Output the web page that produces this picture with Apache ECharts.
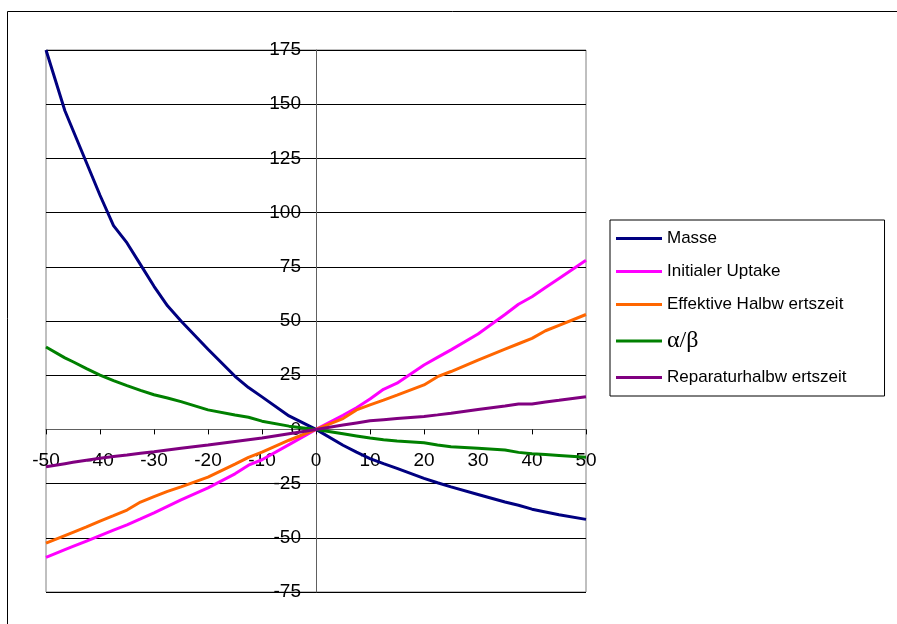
<!DOCTYPE html>
<html>
<head>
<meta charset="utf-8">
<script src="https://cdn.jsdelivr.net/npm/echarts@6/dist/echarts.min.js"></script>
<style>
html,body{margin:0;padding:0;background:#fff;}
#chart{width:897px;height:624px;}
</style>
</head>
<body>
<div id="chart"></div>
<script>
// x values (shared by all series)
var xValues = [-50,-46.5,-45,-42.5,-40,-37.5,-35,-32.5,-30,-27.5,-25,-20,-15,-12.5,-10,-5,0,5,7.5,10,12.5,15,20,22.5,25,30,35,37.5,40,42.5,45,50];

var seriesNames = ['Masse','Initialer Uptake','Effektive Halbw ertszeit','α/β','Reparaturhalbw ertszeit'];

var masse = [175,147,138,123,108,94,86,76,66,57,50,37,24.5,19.3,15,6.2,0,-7.3,-10.5,-13.5,-15.8,-18,-22.6,-24.6,-26.5,-30,-33.5,-35,-36.8,-38.1,-39.4,-41.5];
var initialerUptake = [-59,-55.5,-54,-51.5,-49,-46.5,-44,-41.3,-38.5,-35.5,-32.5,-27,-20.5,-16.5,-14,-7,0,6.5,10,14,18.5,21.3,29.7,33.2,36.7,44,53,57.7,61.2,65.4,69.6,78];
var effektiveHWZ = [-52.5,-49,-47.5,-45,-42.3,-39.8,-37.2,-33.5,-31,-28.6,-26.5,-22,-16,-12.9,-10.5,-5,0,5,9,11.3,13.5,15.8,20.5,24.3,26.7,32,37,39.5,42,45.5,48,53];
var alphaBeta = [38,33,31.2,28,25,22.5,20.2,18,16,14.5,12.8,9,6.6,5.6,3.8,1.5,0,-2,-3,-4,-4.8,-5.4,-6.2,-7.2,-8,-8.7,-9.5,-10.6,-11.2,-11.6,-12,-12.9];
var reparaturHWZ = [-17.2,-15.8,-15.2,-14.2,-13.3,-12.5,-11.8,-11,-10.3,-9.5,-8.7,-7.2,-5.6,-4.8,-4,-2,0,2,3,4,4.5,5,6,6.7,7.5,9.2,10.8,11.7,11.7,12.6,13.4,15.1];

var seriesValues = [masse, initialerUptake, effektiveHWZ, alphaBeta, reparaturHWZ];
var seriesColors = ['#000080','#FF00FF','#FF6600','#008000','#800080'];

var X_MIN = -50, X_MAX = 50, Y_MIN = -75, Y_MAX = 175;
var GRID = {left: 46, top: 50, right: 311, bottom: 32};
var W = 897, H = 624;
var gw = W - GRID.left - GRID.right, gh = H - GRID.top - GRID.bottom;
// offsets to place axes where the other axis is zero
var xAxisOffset = -(gh * (0 - Y_MIN) / (Y_MAX - Y_MIN));
var yAxisOffset = -(gw * (0 - X_MIN) / (X_MAX - X_MIN));

function pairs(vals){
  return xValues.map(function(x,i){ return [x, vals[i]]; });
}

var chart = echarts.init(document.getElementById('chart'), null, {renderer:'canvas'});

var series = seriesNames.map(function(n,i){
  return {
    name: n,
    type: 'line',
    data: pairs(seriesValues[i]),
    showSymbol: false,
    symbol: 'none',
    smooth: false,
    lineStyle: {width: 3, color: seriesColors[i]},
    itemStyle: {color: seriesColors[i]},
    animation: false
  };
});

chart.setOption({
  animation: false,
  backgroundColor: '#fff',
  graphic: [{
    type: 'rect',
    shape: {x: 7.5, y: 11.5, width: 1000, height: 800},
    style: {fill: 'none', stroke: '#000', lineWidth: 1},
    silent: true,
    z: -10
  }],
  grid: {
    left: GRID.left, top: GRID.top, right: GRID.right, bottom: GRID.bottom,
    show: true, borderColor: '#808080', borderWidth: 1
  },
  xAxis: {
    type: 'value', min: X_MIN, max: X_MAX, interval: 10,
    position: 'bottom', offset: xAxisOffset,
    axisLine: {show: true, onZero: false, lineStyle: {color: '#606060', width: 1}},
    axisTick: {show: true, length: 5, lineStyle: {color: '#000'}},
    axisLabel: {color: '#000', fontSize: 19, fontFamily: 'Liberation Sans, Arial', margin: 22},
    splitLine: {show: false}
  },
  yAxis: {
    type: 'value', min: Y_MIN, max: Y_MAX, interval: 25,
    position: 'left', offset: yAxisOffset,
    axisLine: {show: true, onZero: false, lineStyle: {color: '#606060', width: 1}},
    axisTick: {show: true, length: 5, lineStyle: {color: '#000'}},
    axisLabel: {color: '#000', fontSize: 19, fontFamily: 'Liberation Sans, Arial', margin: 15},
    splitLine: {show: true, lineStyle: {color: '#000', width: 1}}
  },
  legend: {
    orient: 'vertical',
    left: 610, top: 220,
    data: seriesNames,
    icon: 'rect',
    itemWidth: 46, itemHeight: 3,
    itemGap: 16,
    padding: [10, 38, 10, 6],
    borderColor: '#000', borderWidth: 1,
    backgroundColor: '#fff',
    textStyle: {
      color: '#000', fontSize: 17, fontFamily: 'Liberation Sans, Arial', lineHeight: 16,
      rich: {
        ab: {fontFamily: 'Liberation Serif, Times New Roman', fontSize: 24, lineHeight: 24, color: '#000'}
      }
    },
    formatter: function(name){ return name === 'α/β' ? '{ab|α/β}' : name; }
  },
  series: series
});
</script>
</body>
</html>
